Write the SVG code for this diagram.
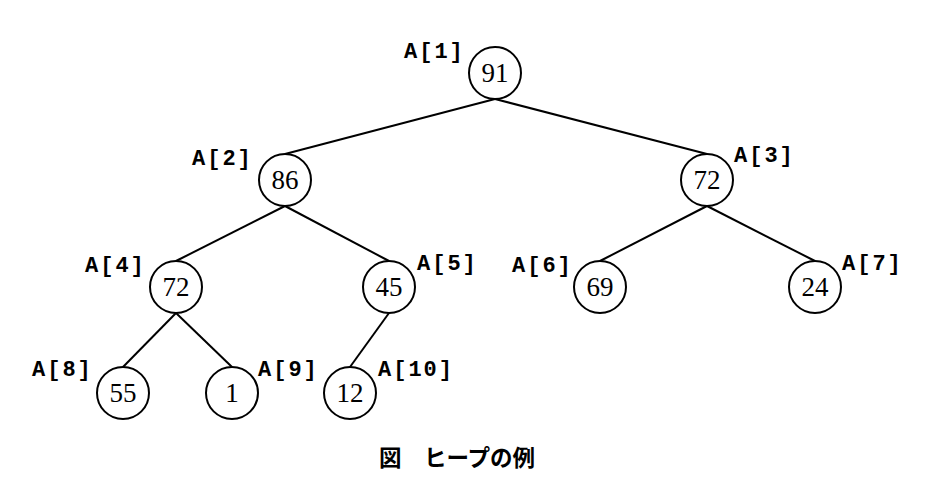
<svg xmlns="http://www.w3.org/2000/svg" width="936" height="502" viewBox="0 0 936 502">
<style>
.n circle{fill:#fff;stroke:#000;stroke-width:2}
.v{font-family:"Liberation Serif",serif;font-size:27px;text-anchor:middle;fill:#000}
.l{font-family:"Liberation Mono",monospace;font-size:22px;font-weight:bold;letter-spacing:2px;fill:#000}
#edges line{stroke:#000;stroke-width:2}
.cap{font-family:"Noto Sans CJK JP",sans-serif;font-size:22.5px;font-weight:bold;text-anchor:middle;fill:#000}
</style>
<rect width="936" height="502" fill="#fff"/>
<g id="edges">
<line x1="495" y1="99" x2="285" y2="154"/>
<line x1="495" y1="99" x2="707" y2="154"/>
<line x1="285" y1="206" x2="176" y2="261"/>
<line x1="285" y1="206" x2="389" y2="261"/>
<line x1="707" y1="206" x2="600" y2="261"/>
<line x1="707" y1="206" x2="815" y2="261"/>
<line x1="176" y1="313" x2="123" y2="367"/>
<line x1="176" y1="313" x2="232" y2="367"/>
<line x1="389" y1="313" x2="350" y2="367"/>
</g>
<g id="n1" class="n"><circle cx="495" cy="73" r="26"/><text class="v" x="495" y="82">91</text><text class="l" x="404" y="58">A[1]</text></g>
<g id="n2" class="n"><circle cx="285" cy="180" r="26"/><text class="v" x="285" y="189">86</text><text class="l" x="192" y="165">A[2]</text></g>
<g id="n3" class="n"><circle cx="707" cy="180" r="26"/><text class="v" x="707" y="189">72</text><text class="l" x="734" y="162">A[3]</text></g>
<g id="n4" class="n"><circle cx="176" cy="287" r="26"/><text class="v" x="176" y="296">72</text><text class="l" x="85" y="272">A[4]</text></g>
<g id="n5" class="n"><circle cx="389" cy="287" r="26"/><text class="v" x="389" y="296">45</text><text class="l" x="417" y="270">A[5]</text></g>
<g id="n6" class="n"><circle cx="600" cy="287" r="26"/><text class="v" x="600" y="296">69</text><text class="l" x="512" y="272">A[6]</text></g>
<g id="n7" class="n"><circle cx="815" cy="287" r="26"/><text class="v" x="815" y="296">24</text><text class="l" x="842" y="270">A[7]</text></g>
<g id="n8" class="n"><circle cx="123" cy="393" r="26"/><text class="v" x="123" y="402">55</text><text class="l" x="32" y="376">A[8]</text></g>
<g id="n9" class="n"><circle cx="232" cy="393" r="26"/><text class="v" x="232" y="402">1</text><text class="l" x="258" y="376">A[9]</text></g>
<g id="n10" class="n"><circle cx="350" cy="393" r="26"/><text class="v" x="350" y="402">12</text><text class="l" x="378" y="376">A[10]</text></g>
<text class="cap" x="457" y="466">図　ヒープの例</text>
</svg>
